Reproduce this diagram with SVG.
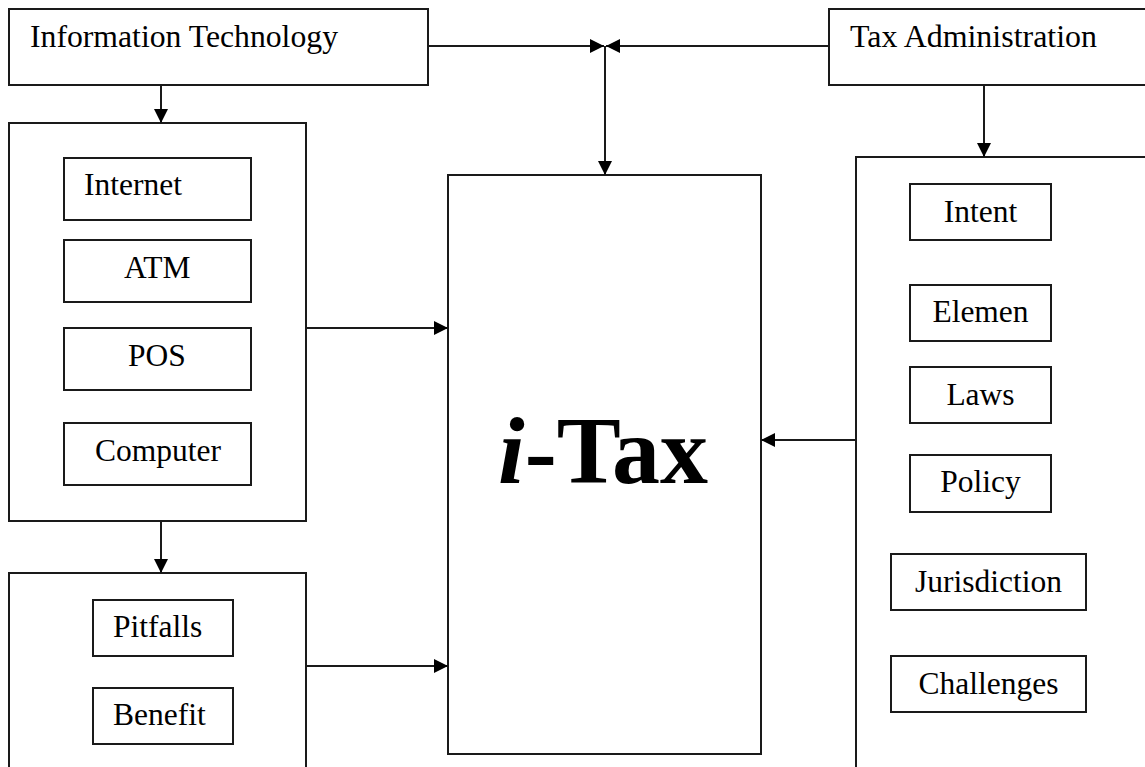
<svg xmlns="http://www.w3.org/2000/svg" width="1145" height="767" viewBox="0 0 1145 767">
  <style>
    .box { fill: #ffffff; stroke: #1a1a1a; stroke-width: 2; }
    .lbl { font-family: "Liberation Serif", "Times New Roman", serif; font-size: 31.5px; fill: #000000; }
    .big { font-family: "Liberation Serif", "Times New Roman", serif; font-size: 96px; font-weight: bold; fill: #000000; }
    .conn { fill: none; stroke: #1a1a1a; stroke-width: 2; }
  </style>
  <defs>
    <marker id="arrow" viewBox="0 0 14 14" refX="14" refY="7" markerWidth="14" markerHeight="14" markerUnits="userSpaceOnUse" orient="auto">
      <path d="M0,0 L14,7 L0,14 Z" fill="#000000"/>
    </marker>
  </defs>
  <rect width="1145" height="767" fill="#ffffff"/>

  <!-- top-level sources -->
  <g id="information-technology">
    <rect class="box" x="9" y="9" width="419" height="76"/>
    <text class="lbl" x="30" y="47" textLength="308" lengthAdjust="spacingAndGlyphs">Information Technology</text>
  </g>
  <g id="tax-administration">
    <rect class="box" x="829" y="9" width="330" height="76"/>
    <text class="lbl" x="850" y="47" textLength="247" lengthAdjust="spacingAndGlyphs">Tax Administration</text>
  </g>

  <!-- IT components -->
  <g id="it-components">
    <rect class="box" x="9" y="123" width="297" height="398"/>
  </g>
  <g id="internet">
    <rect class="box" x="64" y="158" width="187" height="62"/>
    <text class="lbl" x="84" y="195">Internet</text>
  </g>
  <g id="atm">
    <rect class="box" x="64" y="240" width="187" height="62"/>
    <text class="lbl" x="124" y="278">ATM</text>
  </g>
  <g id="pos">
    <rect class="box" x="64" y="328" width="187" height="62"/>
    <text class="lbl" x="128" y="366">POS</text>
  </g>
  <g id="computer">
    <rect class="box" x="64" y="423" width="187" height="62"/>
    <text class="lbl" x="95" y="461">Computer</text>
  </g>

  <!-- outcomes -->
  <g id="outcomes">
    <rect class="box" x="9" y="573" width="297" height="210"/>
  </g>
  <g id="pitfalls">
    <rect class="box" x="93" y="600" width="140" height="56"/>
    <text class="lbl" x="113" y="637">Pitfalls</text>
  </g>
  <g id="benefit">
    <rect class="box" x="93" y="688" width="140" height="56"/>
    <text class="lbl" x="113" y="725">Benefit</text>
  </g>

  <!-- central node -->
  <g id="i-tax">
    <rect class="box" x="448" y="175" width="313" height="579"/>
    <text class="big" x="603" y="483" text-anchor="middle"><tspan font-style="italic">i</tspan>-Tax</text>
  </g>

  <!-- tax administration components -->
  <g id="tax-components">
    <rect class="box" x="856" y="157" width="300" height="630"/>
  </g>
  <g id="intent">
    <rect class="box" x="910" y="184" width="141" height="56"/>
    <text class="lbl" x="980.5" y="222" text-anchor="middle">Intent</text>
  </g>
  <g id="elemen">
    <rect class="box" x="910" y="285" width="141" height="56"/>
    <text class="lbl" x="980.5" y="322" text-anchor="middle">Elemen</text>
  </g>
  <g id="laws">
    <rect class="box" x="910" y="367" width="141" height="56"/>
    <text class="lbl" x="980.5" y="405" text-anchor="middle">Laws</text>
  </g>
  <g id="policy">
    <rect class="box" x="910" y="455" width="141" height="57"/>
    <text class="lbl" x="980.5" y="492" text-anchor="middle">Policy</text>
  </g>
  <g id="jurisdiction">
    <rect class="box" x="891" y="554" width="195" height="56"/>
    <text class="lbl" x="988.5" y="592" text-anchor="middle">Jurisdiction</text>
  </g>
  <g id="challenges">
    <rect class="box" x="891" y="656" width="195" height="56"/>
    <text class="lbl" x="988.5" y="694" text-anchor="middle">Challenges</text>
  </g>

  <!-- connectors -->
  <g id="connectors">
    <line class="conn" x1="428" y1="46" x2="604" y2="46" marker-end="url(#arrow)"/>
    <line class="conn" x1="829" y1="46" x2="606" y2="46" marker-end="url(#arrow)"/>
    <line class="conn" x1="605" y1="46" x2="605" y2="175" marker-end="url(#arrow)"/>
    <line class="conn" x1="161" y1="85" x2="161" y2="123" marker-end="url(#arrow)"/>
    <line class="conn" x1="984" y1="85" x2="984" y2="157" marker-end="url(#arrow)"/>
    <line class="conn" x1="306" y1="328" x2="448" y2="328" marker-end="url(#arrow)"/>
    <line class="conn" x1="161" y1="521" x2="161" y2="573" marker-end="url(#arrow)"/>
    <line class="conn" x1="306" y1="666" x2="448" y2="666" marker-end="url(#arrow)"/>
    <line class="conn" x1="856" y1="440" x2="761" y2="440" marker-end="url(#arrow)"/>
  </g>
</svg>
